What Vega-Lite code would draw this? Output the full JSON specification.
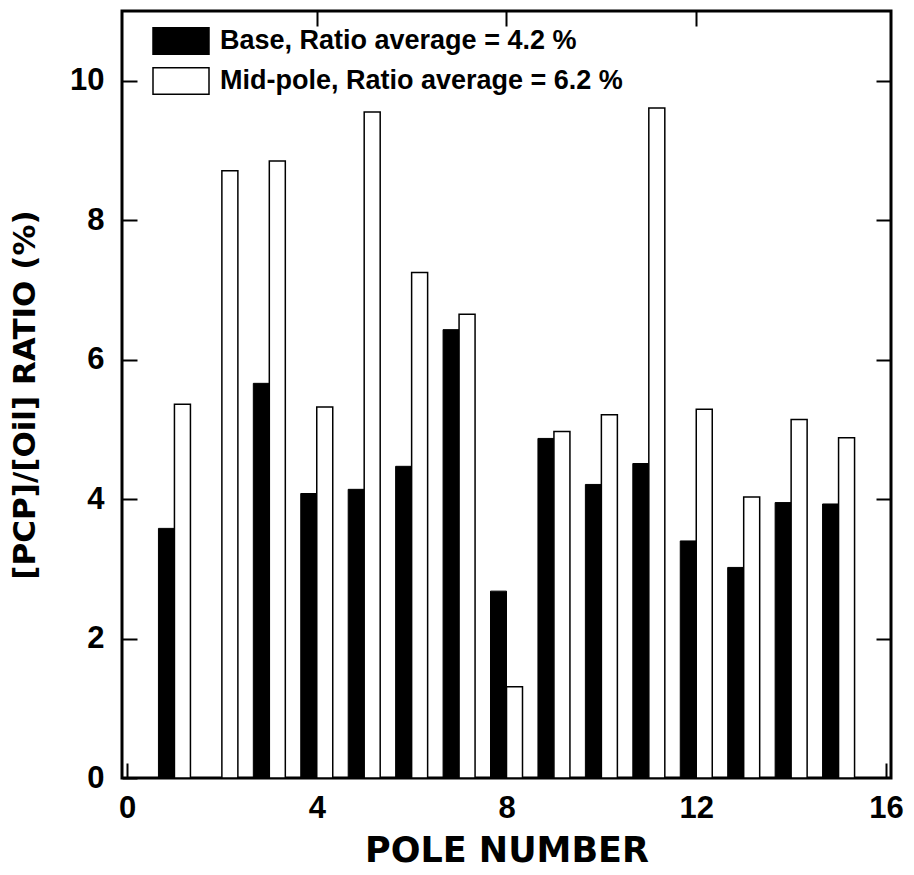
{
  "$schema": "https://vega.github.io/schema/vega-lite/v6.json",
  "autosize": "none",
  "width": 769,
  "height": 767,
  "padding": {"left": 122, "top": 11, "right": 23, "bottom": 97},
  "background": "white",
  "data": {
    "values": [
      {"pole": 1, "series": "Base", "value": 3.58},
      {"pole": 1, "series": "Mid-pole", "value": 5.36},
      {"pole": 2, "series": "Mid-pole", "value": 8.71},
      {"pole": 3, "series": "Base", "value": 5.66},
      {"pole": 3, "series": "Mid-pole", "value": 8.85},
      {"pole": 4, "series": "Base", "value": 4.08},
      {"pole": 4, "series": "Mid-pole", "value": 5.32},
      {"pole": 5, "series": "Base", "value": 4.14},
      {"pole": 5, "series": "Mid-pole", "value": 9.55},
      {"pole": 6, "series": "Base", "value": 4.47},
      {"pole": 6, "series": "Mid-pole", "value": 7.25},
      {"pole": 7, "series": "Base", "value": 6.43},
      {"pole": 7, "series": "Mid-pole", "value": 6.65},
      {"pole": 8, "series": "Base", "value": 2.68},
      {"pole": 8, "series": "Mid-pole", "value": 1.31},
      {"pole": 9, "series": "Base", "value": 4.87},
      {"pole": 9, "series": "Mid-pole", "value": 4.97},
      {"pole": 10, "series": "Base", "value": 4.21},
      {"pole": 10, "series": "Mid-pole", "value": 5.21},
      {"pole": 11, "series": "Base", "value": 4.51},
      {"pole": 11, "series": "Mid-pole", "value": 9.61},
      {"pole": 12, "series": "Base", "value": 3.40},
      {"pole": 12, "series": "Mid-pole", "value": 5.29},
      {"pole": 13, "series": "Base", "value": 3.02},
      {"pole": 13, "series": "Mid-pole", "value": 4.03},
      {"pole": 14, "series": "Base", "value": 3.95},
      {"pole": 14, "series": "Mid-pole", "value": 5.14},
      {"pole": 15, "series": "Base", "value": 3.93},
      {"pole": 15, "series": "Mid-pole", "value": 4.88}
    ]
  },
  "layer": [
    {
      "transform": [{"filter": "datum.series == 'Base'"}],
      "mark": {"type": "bar", "xOffset": -8, "width": 16, "stroke": "black", "strokeWidth": 1},
      "encoding": {
        "x": {
          "field": "pole", "type": "quantitative",
          "scale": {"domain": [0, 16], "nice": false, "zero": false},
          "axis": {
            "orient": "bottom", "values": [0, 4, 8, 12, 16], "title": "POLE NUMBER", "labelPadding": 30,
            "titleFont": "DejaVu Sans", "titleFontWeight": "bold", "titleFontSize": 35, "titlePadding": 10
          }
        },
        "y": {
          "field": "value", "type": "quantitative",
          "scale": {"domain": [0, 11], "nice": false},
          "axis": {
            "orient": "left", "values": [0, 2, 4, 6, 8, 10], "title": "[PCP]/[Oil] RATIO (%)", "labelPadding": 33,
            "titleFont": "DejaVu Sans", "titleFontWeight": "bold", "titleFontSize": 31, "titlePadding": 28
          }
        },
        "fill": {
          "field": "series", "type": "nominal",
          "scale": {"domain": ["Base", "Mid-pole"], "range": ["black", "white"]},
          "legend": {
            "orient": "none", "legendX": 44, "legendY": 15, "title": null,
            "labelExpr": "datum.label == 'Base' ? 'Base, Ratio average = 4.2 %' : 'Mid-pole, Ratio average = 6.2 %'"
          }
        }
      }
    },
    {
      "transform": [{"filter": "datum.series == 'Mid-pole'"}],
      "mark": {"type": "bar", "xOffset": 8, "width": 16, "stroke": "black", "strokeWidth": 1.5},
      "encoding": {
        "x": {
          "field": "pole", "type": "quantitative",
          "axis": {"orient": "top", "values": [4, 8, 12], "labels": false, "title": null}
        },
        "y": {
          "field": "value", "type": "quantitative",
          "axis": {"orient": "right", "values": [2, 4, 6, 8, 10], "labels": false, "title": null}
        },
        "fill": {"field": "series", "type": "nominal"}
      }
    }
  ],
  "resolve": {"axis": {"x": "independent", "y": "independent"}},
  "config": {
    "view": {"stroke": "black", "strokeWidth": 3},
    "axis": {
      "domain": false, "grid": false,
      "ticks": true, "tickSize": -15, "tickWidth": 2, "tickColor": "black",
      "labelFont": "Liberation Sans", "labelFontWeight": "bold", "labelFontSize": 31, "labelColor": "black",
      "labelFlush": false, "labelOverlap": false,
      "titleColor": "black"
    },
    "legend": {
      "padding": 0,
      "symbolType": "M-2,-0.94H2V0.94H-2Z",
      "symbolSize": 784,
      "symbolStrokeColor": "black",
      "symbolStrokeWidth": 1.5,
      "labelFont": "Liberation Sans", "labelFontWeight": "bold", "labelFontSize": 27, "labelColor": "black",
      "labelOffset": 24, "rowPadding": 6, "labelLimit": 600
    }
  }
}
